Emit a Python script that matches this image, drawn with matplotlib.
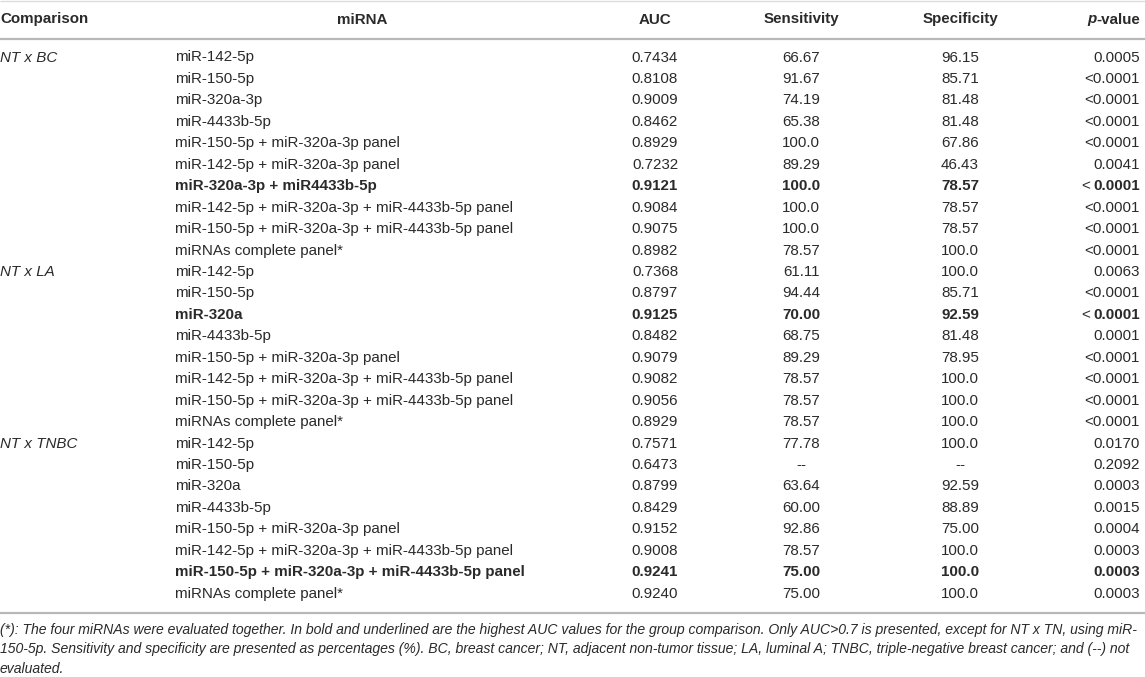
import matplotlib
matplotlib.use('Agg')
import matplotlib.pyplot as plt

# ---------------- data ----------------
columns = ["Comparison", "miRNA", "AUC", "Sensitivity", "Specificity", "p-value"]
comparisons = ["NT x BC", "NT x LA", "NT x TNBC"]
comparison_rows = [0, 10, 18]
mirnas = [
    "miR-142-5p", "miR-150-5p", "miR-320a-3p", "miR-4433b-5p",
    "miR-150-5p + miR-320a-3p panel", "miR-142-5p + miR-320a-3p panel",
    "miR-320a-3p + miR4433b-5p",
    "miR-142-5p + miR-320a-3p + miR-4433b-5p panel",
    "miR-150-5p + miR-320a-3p + miR-4433b-5p panel",
    "miRNAs complete panel*",
    "miR-142-5p", "miR-150-5p", "miR-320a", "miR-4433b-5p",
    "miR-150-5p + miR-320a-3p panel",
    "miR-142-5p + miR-320a-3p + miR-4433b-5p panel",
    "miR-150-5p + miR-320a-3p + miR-4433b-5p panel",
    "miRNAs complete panel*",
    "miR-142-5p", "miR-150-5p", "miR-320a", "miR-4433b-5p",
    "miR-150-5p + miR-320a-3p panel",
    "miR-142-5p + miR-320a-3p + miR-4433b-5p panel",
    "miR-150-5p + miR-320a-3p + miR-4433b-5p panel",
    "miRNAs complete panel*",
]
auc = ["0.7434", "0.8108", "0.9009", "0.8462", "0.8929", "0.7232", "0.9121",
       "0.9084", "0.9075", "0.8982",
       "0.7368", "0.8797", "0.9125", "0.8482", "0.9079", "0.9082", "0.9056",
       "0.8929",
       "0.7571", "0.6473", "0.8799", "0.8429", "0.9152", "0.9008", "0.9241",
       "0.9240"]
sensitivity = ["66.67", "91.67", "74.19", "65.38", "100.0", "89.29", "100.0",
               "100.0", "100.0", "78.57",
               "61.11", "94.44", "70.00", "68.75", "89.29", "78.57", "78.57",
               "78.57",
               "77.78", "--", "63.64", "60.00", "92.86", "78.57", "75.00",
               "75.00"]
specificity = ["96.15", "85.71", "81.48", "81.48", "67.86", "46.43", "78.57",
               "78.57", "78.57", "100.0",
               "100.0", "85.71", "92.59", "81.48", "78.95", "100.0", "100.0",
               "100.0",
               "100.0", "--", "92.59", "88.89", "75.00", "100.0", "100.0",
               "100.0"]
p_values = ["0.0005", "<0.0001", "<0.0001", "<0.0001", "<0.0001", "0.0041",
            "<0.0001", "<0.0001", "<0.0001", "<0.0001",
            "0.0063", "<0.0001", "<0.0001", "0.0001", "<0.0001", "<0.0001",
            "<0.0001", "<0.0001",
            "0.0170", "0.2092", "0.0003", "0.0015", "0.0004", "0.0003",
            "0.0003", "0.0003"]
bold_rows = [6, 12, 24]
footnote_lines = [
    "(*): The four miRNAs were evaluated together. In bold and underlined are the highest AUC values for the group comparison. Only AUC>0.7 is presented, except for NT x TN, using miR-",
    "150-5p. Sensitivity and specificity are presented as percentages (%). BC, breast cancer; NT, adjacent non-tumor tissue; LA, luminal A; TNBC, triple-negative breast cancer; and (--) not",
    "evaluated.",
]

# ---------------- layout ----------------
W, H = 1145, 677
FONT = "Liberation Sans"
FS = 10.9
FOOT_FS = 10.1
TXT = "#2a2a2a"
LINE = "#b8b8b8"

fig = plt.figure(figsize=(W / 100, H / 100), dpi=100)
ax = fig.add_axes([0, 0, 1, 1])
ax.set_xlim(0, W)
ax.set_ylim(H, 0)
ax.axis('off')
renderer = fig.canvas.get_renderer()

x_comp, x_mirna = 0, 175
x_mirna_head = 362
x_auc, x_sens, x_spec, x_p = 655, 801, 960, 1140
y_head = 19.5
row0, dy = 57.5, 21.45


def width_px(t):
    return t.get_window_extent(renderer=renderer).width


def txt(x, y, s, ha='left', weight='normal', style='normal', size=FS):
    return ax.text(x, y, s, ha=ha, va='center', fontsize=size, family=FONT,
                   fontweight=weight, fontstyle=style, color=TXT)


# rules
ax.plot([0, W], [1, 1], color="#dcdcdc", lw=1.0, solid_capstyle='butt')
ax.plot([0, W], [39, 39], color=LINE, lw=1.6, solid_capstyle='butt')
ax.plot([0, W], [613, 613], color=LINE, lw=1.6, solid_capstyle='butt')

# header
txt(x_comp, y_head, columns[0], weight='bold')
txt(x_mirna_head, y_head, columns[1], ha='center', weight='bold')
txt(x_auc, y_head, columns[2], ha='center', weight='bold')
txt(x_sens, y_head, columns[3], ha='center', weight='bold')
txt(x_spec, y_head, columns[4], ha='center', weight='bold')
t = txt(x_p, y_head, columns[5][1:], ha='right', weight='bold')
txt(x_p - width_px(t), y_head, columns[5][0], ha='right', weight='bold', style='italic')

# comparison labels
for lab, r in zip(comparisons, comparison_rows):
    txt(x_comp, row0 + r * dy, lab, style='italic')

# rows
for i in range(len(mirnas)):
    y = row0 + i * dy
    w = 'bold' if i in bold_rows else 'normal'
    txt(x_mirna, y, mirnas[i], weight=w)
    txt(x_auc, y, auc[i], ha='center', weight=w)
    txt(x_sens, y, sensitivity[i], ha='center', weight=w)
    txt(x_spec, y, specificity[i], ha='center', weight=w)
    pv = p_values[i]
    if w == 'bold' and pv.startswith('<'):
        t = txt(x_p, y, pv[1:], ha='right', weight='bold')
        txt(x_p - width_px(t) - 3, y, "<", ha='right')
    else:
        txt(x_p, y, pv, ha='right', weight=w)

# footnote
for k, line in enumerate(footnote_lines):
    txt(0, 630 + k * 19.5, line, style='italic', size=FOOT_FS)

fig.savefig("out.png", dpi=100)
